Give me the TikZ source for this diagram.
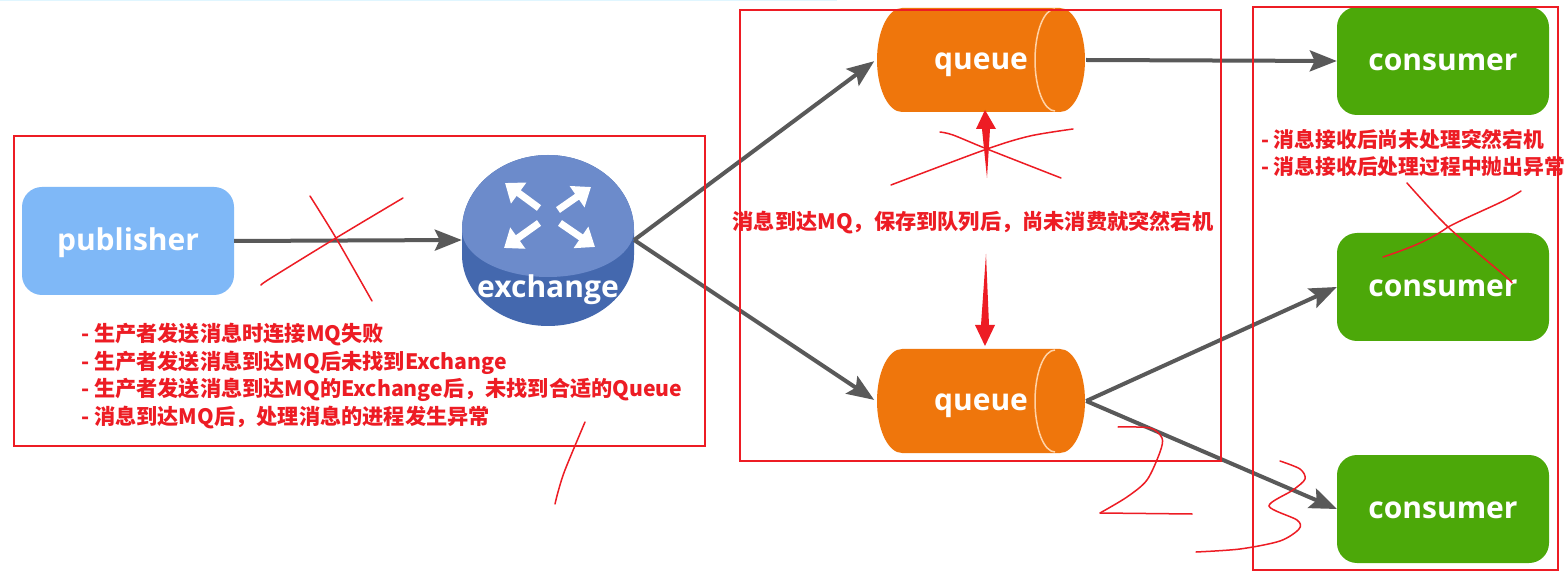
\documentclass[tikz,border=0pt]{standalone}
\usepackage{fontspec}
\setmainfont{Open Sans}
\newfontfamily\cjkfont{Noto Sans CJK SC}
\usetikzlibrary{arrows.meta}
\definecolor{markred}{HTML}{ED1C24}
\definecolor{flowgray}{HTML}{595959}
\definecolor{pubblue}{HTML}{7FB8F7}
\definecolor{exlight}{HTML}{6C8BCB}
\definecolor{exdark}{HTML}{4468AE}
\definecolor{queueorange}{HTML}{EF760C}
\definecolor{consgreen}{HTML}{4CA809}
\tikzset{
    boxlabel/.style = {text = white, font = \fontsize{30}{34}\selectfont\bfseries, inner sep = 0pt, text height = 25pt, text depth = 6pt},
    pubbox/.style = {boxlabel, fill = pubblue, rounded corners = 20pt, minimum width = 212pt, minimum height = 108pt},
    consbox/.style = {boxlabel, fill = consgreen, rounded corners = 20pt, minimum width = 212pt, minimum height = 108pt},
    shapebox/.style = {boxlabel},
    flow/.style = {draw = flowgray, line width = 4pt, -{Stealth[length = 27pt, width = 21pt, inset = 5pt]}},
    exarrow/.style = {draw = white, line width = 7pt, -{Triangle[length = 17pt, width = 25pt]}},
    redbox/.style = {draw = markred, line width = 2pt},
    scribble/.style = {draw = markred, line width = 1.5pt, line cap = round},
    note/.style = {text = markred, align = left, inner sep = 0pt, anchor = north west, font = \cjkfont\fontsize{21.2}{27.5}\selectfont\bfseries}
}
\begin{document}
\begin{tikzpicture}[x = 1pt, y = -1pt]
    \useasboundingbox (0,0) rectangle (1567,577);
    \fill[white] (0,0) rectangle (1567,577);
    \fill[blue!30!cyan!12] (0,0) rectangle (837,1.5);

    % exchange body
    \fill[exdark] (462,230) -- (462,255) arc[x radius = 86pt, y radius = 71pt, start angle = 180, end angle = 360]
        -- (634,230) arc[x radius = 86pt, y radius = 75pt, start angle = 0, end angle = 180] -- cycle;
    \fill[exlight] (462,230) arc[x radius = 86pt, y radius = 47pt, start angle = 180, end angle = 360]
        arc[x radius = 86pt, y radius = 75pt, start angle = 0, end angle = 180] -- cycle;
    \draw[exarrow] (539,208) -- (505,183);
    \draw[exarrow] (558,210) -- (591,187);
    \draw[exarrow] (539,223) -- (504,248);
    \draw[exarrow] (560,223) -- (595,247);

    % queue bodies
    \foreach \ypos in {60,401} {
        \fill[queueorange] (902,\ypos-52) -- (1060,\ypos-52)
            arc[x radius = 25pt, y radius = 52pt, start angle = 90, end angle = -90]
            -- (902,\ypos+52) arc[x radius = 25pt, y radius = 52pt, start angle = 270, end angle = 90] -- cycle;
        \draw[orange!35!white, line width = 1.5pt] (1055,\ypos-51)
            arc[x radius = 20pt, y radius = 51pt, start angle = 90, end angle = 270];
    }

    \node (publisher)[pubbox] at (128,241) {publisher};
    \node (exchange) [minimum width = 172pt, minimum height = 171pt, inner sep = 0pt] at (548,240) {};
    \node (exchange_label)[shapebox] at (548,288.5) {exchange};
    \node (queue_top) [shapebox, minimum width = 210pt, minimum height = 105pt] at (981,60) {queue};
    \node (queue_bot) [shapebox, minimum width = 210pt, minimum height = 105pt] at (981,401) {queue};
    \node (consumer_1)[consbox] at (1443,61) {consumer};
    \node (consumer_2)[consbox] at (1443,287) {consumer};
    \node (consumer_3)[consbox] at (1443,509) {consumer};

    \path (publisher.east) edge[flow] (exchange.west);
    \path (exchange.east) edge[flow, shorten > = 2pt] (queue_top.west);
    \path (exchange.east) edge[flow, shorten > = 2pt] (queue_bot.west);
    \path (queue_top.east) edge[flow] (consumer_1.west);
    \path (queue_bot.east) edge[flow] (consumer_2.west);
    \path (queue_bot.east) edge[flow] (consumer_3.west);

    % red marks on top
    \node (box_send) [redbox, minimum width = 691pt, minimum height = 310pt, inner sep = 0pt] at (359.5,291) {};
    \node (box_queue)[redbox, minimum width = 481pt, minimum height = 451pt, inner sep = 0pt] at (980.5,235.5) {};
    \node (box_cons) [redbox, minimum width = 305pt, minimum height = 563pt, inner sep = 0pt] at (1405.5,288.5) {};

    \node (note_send)[note] at (81,323) {- 生产者发送消息时连接MQ失败\\- 生产者发送消息到达MQ后未找到Exchange\\- 生产者发送消息到达MQ的Exchange后，未找到合适的Queue\\- 消息到达MQ后，处理消息的进程发生异常};
    \node (note_queue)[note, anchor = center] at (973,223) {消息到达MQ，保存到队列后，尚未消费就突然宕机};
    \node (note_cons)[note, font = \cjkfont\fontsize{20.8}{27.5}\selectfont\bfseries] at (1261,129) {- 消息接收后尚未处理突然宕机\\- 消息接收后处理过程中抛出异常};

    \coordinate (tail_up) at (987,178);
    \coordinate (tail_down) at (986,254);
    \fill[markred] (tail_up) -- (990,129) -- (996,129) -- (985,110) -- (976,129) -- (982,129) -- cycle;
    \fill[markred] (tail_down) -- (989,325) -- (995,325) -- (985,346) -- (975,325) -- (981,325) -- cycle;

    \draw[scribble] plot[smooth] coordinates {(310,196) (336,238) (372,301)};
    \draw[scribble] plot[smooth] coordinates {(261,285) (271,278) (336,238) (403,198)};
    \draw[scribble] plot[smooth] coordinates {(585,422) (565,470) (558,492) (555,504)};
    \draw[scribble] plot[smooth] coordinates {(940,132) (953,135) (987,149) (1061,178)};
    \draw[scribble] plot[smooth] coordinates {(891,185) (987,149) (1030,136) (1073,129)};
    \draw[scribble] plot[smooth] coordinates {(1407,183) (1448,227) (1505,276) (1512,283)};
    \draw[scribble] (1383,257) .. controls (1410,248) and (1430,240) .. (1448,227) .. controls (1475,213) and (1505,202) .. (1521,191);
    \draw[scribble] plot[smooth] coordinates {(1118,427) (1150,428) (1162,438) (1160,452) (1147,480) (1127,497) (1100,513)};
    \draw[scribble] (1100,513) -- (1192,514);
    \draw[scribble] plot[smooth] coordinates {(1280,461) (1300,469) (1305,479) (1293,490) (1269,506) (1297,520) (1299,529) (1280,541) (1240,549) (1196,552)};
\end{tikzpicture}
\end{document}
